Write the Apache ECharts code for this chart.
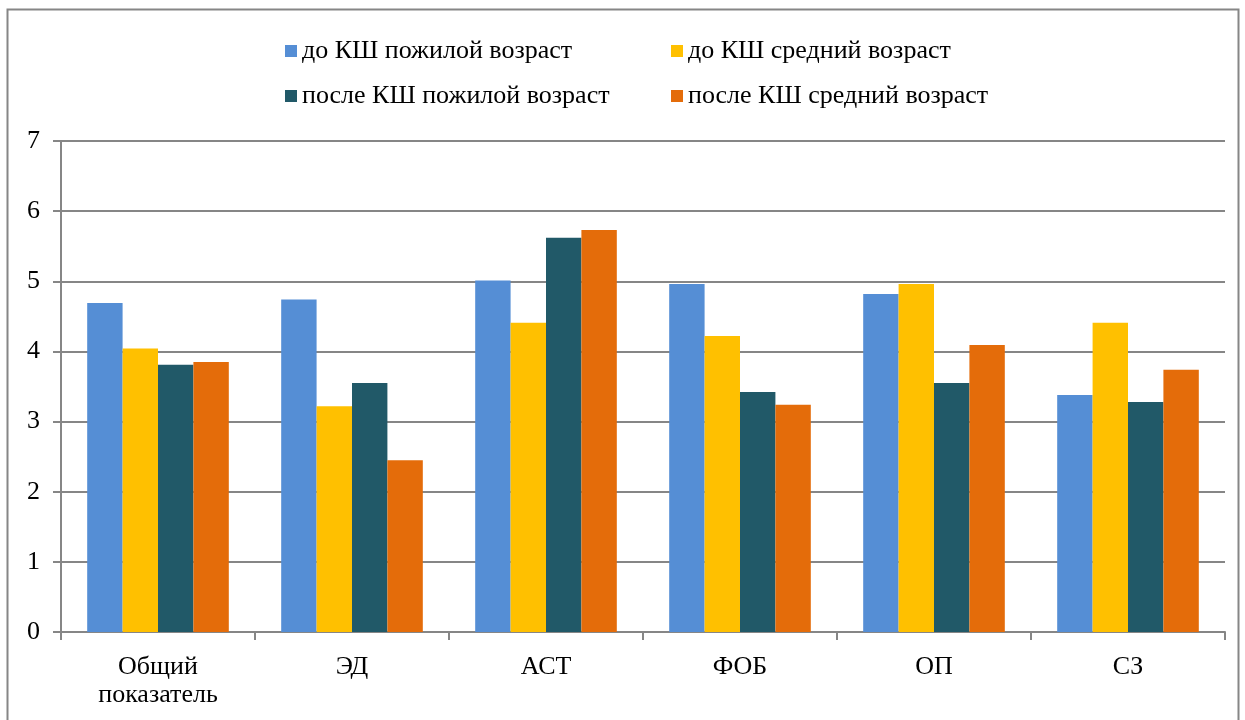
<!DOCTYPE html>
<html>
<head>
<meta charset="utf-8">
<script src="https://cdn.jsdelivr.net/npm/echarts@6/dist/echarts.min.js"></script>
<style>
  html, body { margin: 0; padding: 0; background: #fff; }
  #main { width: 1245px; height: 720px; }
</style>
</head>
<body>
<div id="main"></div>
<script>
// данные диаграммы
var categories = ['Общий\nпоказатель', 'ЭД', 'АСТ', 'ФОБ', 'ОП', 'СЗ'];
var seriesNames = ['до КШ пожилой возраст', 'до КШ средний возраст',
                   'после КШ пожилой возраст', 'после КШ средний возраст'];
var doOld = [4.69, 4.74, 5.01, 4.96, 4.82, 3.38];
var doMid = [4.04, 3.22, 4.41, 4.22, 4.96, 4.41];
var posleOld = [3.81, 3.55, 5.62, 3.42, 3.55, 3.28];
var posleMid = [3.85, 2.45, 5.73, 3.24, 4.09, 3.74];
var yTicks = [0, 1, 2, 3, 4, 5, 6, 7];

var colors = ['#558ED5', '#FFC000', '#215968', '#E46C0A'];
var font = 'Liberation Serif';

var myChart = echarts.init(document.getElementById('main'));

function legendAt(name, left, top) {
    return {
        data: [name],
        left: left,
        top: top,
        icon: 'rect',
        itemWidth: 12,
        itemHeight: 12,
        itemGap: 0,
        textStyle: { fontFamily: font, fontSize: 26, color: '#000' }
    };
}

var values = [doOld, doMid, posleOld, posleMid];
var series = [];
for (var i = 0; i < values.length; i++) {
    series.push({
        name: seriesNames[i],
        type: 'bar',
        data: values[i],
        barGap: '0%',
        barCategoryGap: '27%',
        itemStyle: { color: colors[i] }
    });
}

var option = {
    backgroundColor: '#fff',
    animation: false,
    color: colors,
    graphic: [{
        type: 'rect',
        shape: { x: 7.5, y: 9.5, width: 1231, height: 720 },
        style: { fill: 'none', stroke: '#868686', lineWidth: 2 },
        silent: true
    }],
    legend: [
        legendAt(seriesNames[0], 280, 33),
        legendAt(seriesNames[1], 666, 33),
        legendAt(seriesNames[2], 280, 78),
        legendAt(seriesNames[3], 666, 78)
    ],
    grid: { left: 61, right: 20, top: 141, bottom: 88 },
    xAxis: {
        type: 'category',
        data: categories,
        axisLine: { lineStyle: { color: '#868686', width: 2 } },
        axisTick: { show: true, length: 8, interval: 0, lineStyle: { color: '#868686', width: 2 } },
        axisLabel: { fontFamily: font, fontSize: 26, color: '#000', margin: 21, lineHeight: 28, interval: 0 }
    },
    yAxis: {
        type: 'value',
        min: yTicks[0],
        max: yTicks[yTicks.length - 1],
        interval: 1,
        axisLine: { show: true, lineStyle: { color: '#868686', width: 2 } },
        axisTick: { show: true, length: 8, lineStyle: { color: '#868686', width: 2 } },
        axisLabel: { fontFamily: font, fontSize: 26, color: '#000', margin: 21 },
        splitLine: { lineStyle: { color: '#868686', width: 2 } }
    },
    series: series
};

myChart.setOption(option);
</script>
</body>
</html>
